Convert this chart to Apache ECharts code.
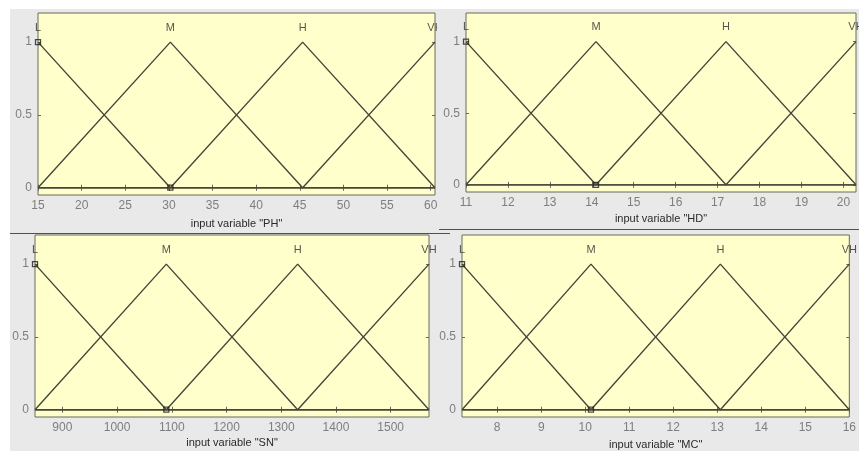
<!DOCTYPE html>
<html>
<head>
<meta charset="utf-8">
<script src="https://cdn.jsdelivr.net/npm/echarts@6/dist/echarts.min.js"></script>
<style>
  html, body { margin: 0; padding: 0; background: #ffffff; }
  #chart { width: 859px; height: 451px; }
</style>
</head>
<body>
<div id="chart"></div>
<script>
// Membership function labels shared by all four input variables
const mfNames = ['L', 'M', 'H', 'VH'];

// Peak positions of the triangular membership functions (first/last = range limits)
const phPeaks = [15, 30.17, 45.33, 60.5];
const hdPeaks = [11, 14.1, 17.2, 20.3];
const snPeaks = [850, 1090, 1330, 1570];
const mcPeaks = [7.2, 10.13, 13.07, 16];

// Tick labels on each x axis
const phTicks = [15, 20, 25, 30, 35, 40, 45, 50, 55, 60];
const hdTicks = [11, 12, 13, 14, 15, 16, 17, 18, 19, 20];
const snTicks = [900, 1000, 1100, 1200, 1300, 1400, 1500];
const mcTicks = [8, 9, 10, 11, 12, 13, 14, 15, 16];

// Membership degree ticks
const yTicks = [0, 0.5, 1];

// Variable names
const varNames = ['PH', 'HD', 'SN', 'MC'];

const panels = [
  { peaks: phPeaks, ticks: phTicks, name: varNames[0], grid: { left: 38, top: 13, width: 397, height: 182 }, nameGap: 23 },
  { peaks: hdPeaks, ticks: hdTicks, name: varNames[1], grid: { left: 466, top: 13, width: 390, height: 179 }, nameGap: 21 },
  { peaks: snPeaks, ticks: snTicks, name: varNames[2], grid: { left: 35, top: 235, width: 394, height: 182 }, nameGap: 20 },
  { peaks: mcPeaks, ticks: mcTicks, name: varNames[3], grid: { left: 462, top: 235, width: 396, height: 182 }, nameGap: 22 }
];

// Triangular membership value of MF i at x
function trimf(peaks, i, x) {
  const b = peaks[i];
  const a = i > 0 ? peaks[i - 1] : null;
  const c = i < peaks.length - 1 ? peaks[i + 1] : null;
  if (x === b) return 1;
  if (a !== null && x > a && x < b) return (x - a) / (b - a);
  if (c !== null && x > b && x < c) return (c - x) / (c - b);
  return 0;
}

// Vertices of MF i across the whole variable range
function mfPoints(peaks, i) {
  const lo = peaks[0], hi = peaks[peaks.length - 1];
  const xs = [lo, peaks[i - 1], peaks[i], peaks[i + 1], hi]
    .filter(v => v !== undefined && v >= lo && v <= hi);
  const uniq = [...new Set(xs)].sort((p, q) => p - q);
  return uniq.map(x => [x, trimf(peaks, i, x)]);
}

const lineColor = '#46463a';
const tickColor = '#7e7e7e';
const textColor = '#2a2a2a';
const frameColor = '#6a6a5a';
const font = 'Liberation Sans, Arial, sans-serif';

const grids = [], xAxes = [], yAxes = [], series = [];

panels.forEach((p, g) => {
  const lo = p.peaks[0], hi = p.peaks[p.peaks.length - 1];
  grids.push(Object.assign({
    show: true, backgroundColor: '#ffffcc', borderColor: frameColor, borderWidth: 1
  }, p.grid));

  // bottom axis with labels and name
  xAxes.push({
    type: 'value', gridIndex: g, min: lo, max: hi, position: 'bottom',
    name: 'input variable "' + p.name + '"', nameLocation: 'middle', nameGap: p.nameGap,
    nameTextStyle: { color: textColor, fontSize: 11, fontFamily: font },
    axisLine: { show: false },
    axisTick: { show: true, inside: true, length: 3, customValues: p.ticks, lineStyle: { color: frameColor } },
    axisLabel: { show: true, customValues: p.ticks, margin: 5, color: tickColor, fontSize: 12, fontFamily: font,
      formatter: v => String(v) },
    splitLine: { show: false }
  });
  // left axis with labels
  yAxes.push({
    type: 'value', gridIndex: g, min: -0.05, max: 1.2, position: 'left',
    axisLine: { show: false },
    axisTick: { show: true, inside: true, length: 3, customValues: yTicks, lineStyle: { color: frameColor } },
    axisLabel: { show: true, customValues: yTicks, margin: 6, color: tickColor, fontSize: 12, fontFamily: font,
      formatter: v => String(v) },
    splitLine: { show: false }
  });

  // MF triangles
  mfNames.forEach((mf, i) => {
    series.push({
      type: 'line', xAxisIndex: g, yAxisIndex: g, name: p.name + '-' + mf,
      data: mfPoints(p.peaks, i), showSymbol: false, symbol: 'none', animation: false,
      lineStyle: { color: lineColor, width: 1.4 }, silent: true, z: 3
    });
  });

  // edit handles on the first MF's vertices
  series.push({
    type: 'scatter', xAxisIndex: g, yAxisIndex: g, animation: false, silent: true,
    data: [[p.peaks[0], 1], [p.peaks[1], 0]],
    symbol: 'rect', symbolSize: 5,
    itemStyle: { color: 'rgba(255,255,255,0)', borderColor: '#1e1e1e', borderWidth: 1.3 }, z: 5
  });

  // MF names above each peak
  series.push({
    type: 'scatter', xAxisIndex: g, yAxisIndex: g, animation: false, silent: true,
    data: p.peaks.map((x, i) => ({ value: [x, 1.1], name: mfNames[i] })),
    symbolSize: 0,
    label: { show: true, position: 'inside', formatter: d => d.name, color: textColor, fontSize: 11, fontFamily: font },
    z: 4
  });
});

// top and right tick-only axes
panels.forEach((p, g) => {
  const lo = p.peaks[0], hi = p.peaks[p.peaks.length - 1];
  xAxes.push({
    type: 'value', gridIndex: g, min: lo, max: hi, position: 'top',
    axisLine: { show: false },
    axisTick: { show: true, inside: true, length: 3, customValues: p.ticks, lineStyle: { color: frameColor } },
    axisLabel: { show: false, customValues: p.ticks }, splitLine: { show: false }
  });
  yAxes.push({
    type: 'value', gridIndex: g, min: -0.05, max: 1.2, position: 'right',
    axisLine: { show: false },
    axisTick: { show: true, inside: true, length: 3, customValues: yTicks, lineStyle: { color: frameColor } },
    axisLabel: { show: false, customValues: yTicks }, splitLine: { show: false }
  });
});

const chart = echarts.init(document.getElementById('chart'), null, { renderer: 'canvas' });
chart.setOption({
  backgroundColor: '#e9e9e9',
  animation: false,
  grid: grids,
  xAxis: xAxes,
  yAxis: yAxes,
  series: series,
  graphic: [
    // white margins around the figure windows
    { type: 'rect', shape: { x: 0, y: 0, width: 10, height: 451 }, style: { fill: '#ffffff' }, silent: true },
    { type: 'rect', shape: { x: 0, y: 0, width: 859, height: 9 }, style: { fill: '#ffffff' }, silent: true },
    // window frame between the top-left and top-right figures
    { type: 'rect', shape: { x: 437, y: 15, width: 25, height: 20 }, style: { fill: '#e9e9e9' }, silent: true, z: 100 },
    // window edges of the lower figures
    { type: 'line', shape: { x1: 10, y1: 233.5, x2: 450, y2: 233.5 }, style: { stroke: '#505050', lineWidth: 1.2 }, silent: true, z: 100 },
    { type: 'line', shape: { x1: 439, y1: 229.5, x2: 859, y2: 229.5 }, style: { stroke: '#505050', lineWidth: 1.2 }, silent: true, z: 100 }
  ]
});
</script>
</body>
</html>
